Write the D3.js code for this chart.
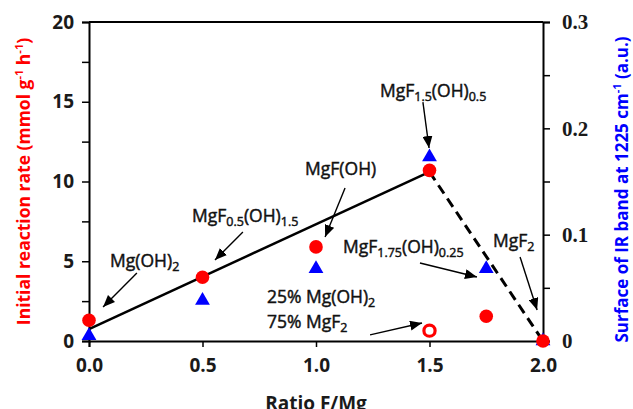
<!DOCTYPE html>
<html><head><meta charset="utf-8">
<script src="https://cdn.jsdelivr.net/npm/d3@7"></script>
<style>body{margin:0;background:#fff}svg{display:block}</style>
</head><body>
<svg id="c" width="633" height="409"></svg>
<script>
// ---- data ----
const ratios = [0, 0.5, 1.0, 1.5, 1.75, 2.0];
const rateValues = [1.3, 4.0, 5.9, 10.7, 1.55, 0];       // left axis, red circles
const irValues = [0.005, 0.038, 0.068, 0.173, 0.068, 0]; // right axis, blue triangles
const mixRatio = [1.5];
const mixRate = [0.65];                                   // open red circle
const trendSolidX = [0, 1.5], trendSolidY = [0.75, 10.6];
const trendDashX = [1.5, 2.0], trendDashY = [10.6, 0];
const xTicks = [0, 0.5, 1.0, 1.5, 2.0];
const yLeftTicks = [0, 5, 10, 15, 20];
const yLeftMinor = [2.5, 7.5, 12.5, 17.5];
const yRightTicks = [0, 0.1, 0.2, 0.3];
const yRightMinor = [0.05, 0.15, 0.25];
const yRightLabels = ["0", "0.1", "0.2", "0.3"];

// annotations: text parts (sub = subscript), anchor & arrow in data units (ratio, rate)
const annotations = [
  {parts:[["Mg(OH)"],["2",1]], tx:0.093, ty:4.64, a:[0.211,4.26,0.062,2.13]},
  {parts:[["MgF"],["0.5",1],["(OH)"],["1.5",1]], tx:0.454, ty:7.46, a:[0.678,6.83,0.555,5.08]},
  {parts:[["MgF(OH)"]], tx:0.952, ty:10.41, a:[1.128,9.59,1.04,6.52]},
  {parts:[["MgF"],["1.5",1],["(OH)"],["0.5",1]], tx:1.282, ty:15.30, a:[1.471,14.98,1.498,12.10]},
  {parts:[["MgF"],["1.75",1],["(OH)"],["0.25",1]], tx:1.119, ty:5.52, a:[1.458,4.89,1.709,4.01]},
  {parts:[["MgF"],["2",1]], tx:1.780, ty:5.89, a:[1.899,5.27,1.974,1.94]},
  {parts:[["25% Mg(OH)"],["2",1]], tx:0.784, ty:2.38, a:null},
  {parts:[["75% MgF"],["2",1]], tx:0.784, ty:0.82, a:[1.238,0.38,1.467,1.13]}
];

// ---- layout ----
const W = 633, H = 409;
const m = {l:89, r:90, t:22, b:68};
const svg = d3.select("#c");
const x = d3.scaleLinear().domain([0, 2]).range([m.l, W - m.r]);
const yL = d3.scaleLinear().domain([0, 20]).range([H - m.b, m.t]);
const yR = d3.scaleLinear().domain([0, 0.3]).range([H - m.b, m.t]);
const sans = "'Open Sans', sans-serif";

svg.append("defs").append("marker")
  .attr("id","ah").attr("viewBox","0 0 10 10").attr("refX",10).attr("refY",5)
  .attr("markerWidth",12).attr("markerHeight",10).attr("markerUnits","userSpaceOnUse")
  .attr("orient","auto").attr("preserveAspectRatio","none")
  .append("path").attr("d","M0,0L10,5L0,10z").attr("fill","#000");

// top frame
svg.append("line").attr("x1",x(0)).attr("x2",x(2)).attr("y1",yL(20)).attr("y2",yL(20))
  .attr("stroke","#000").attr("stroke-width",2);

// axes
const gL = svg.append("g").attr("transform",`translate(${m.l},0)`)
  .call(d3.axisLeft(yL).tickValues(yLeftTicks.concat(yLeftMinor)).tickSize(7).tickPadding(8)
    .tickFormat(d => yLeftTicks.includes(d) ? d3.format("d")(d) : ""));
const gR = svg.append("g").attr("transform",`translate(${W - m.r},0)`)
  .call(d3.axisRight(yR).tickValues(yRightTicks.concat(yRightMinor)).tickSize(7).tickPadding(12)
    .tickFormat(d => { const i = yRightTicks.indexOf(d); return i >= 0 ? yRightLabels[i] : ""; }));
const gB = svg.append("g").attr("transform",`translate(0,${H - m.b})`)
  .call(d3.axisBottom(x).tickValues(xTicks).tickSize(6).tickPadding(12).tickFormat(d3.format(".1f")));
[gL,gR,gB].forEach(g => {
  g.select(".domain").attr("stroke","#000").attr("stroke-width",2);
  g.selectAll(".tick line").attr("stroke","#000").attr("stroke-width",1.5);
  g.selectAll("text").attr("fill","#1a1a1a").attr("font-weight","bold");
});
gL.selectAll("text").attr("font-family",sans).attr("font-size",19);
gB.selectAll("text").attr("font-family",sans).attr("font-size",19);
gR.selectAll("text").attr("font-family","'Liberation Serif', serif").attr("font-size",21);

// axis titles
const tL = svg.append("text").attr("transform",`translate(30,${(m.t + H - m.b)/2}) rotate(-90)`)
  .attr("text-anchor","middle").attr("fill","#ff0000").attr("font-family",sans)
  .attr("font-weight","bold").attr("font-size",17.5);
tL.append("tspan").text("Initial reaction rate  (mmol g");
tL.append("tspan").attr("font-size",11).attr("baseline-shift","super").text("-1");
tL.append("tspan").text(" h");
tL.append("tspan").attr("font-size",11).attr("baseline-shift","super").text("-1");
tL.append("tspan").text(")");

const tR = svg.append("text").attr("transform",`translate(628,${(m.t + H - m.b)/2 + 8}) rotate(-90)`)
  .attr("text-anchor","middle").attr("fill","#0000ff").attr("font-family",sans)
  .attr("font-weight","bold").attr("font-size",17);
tR.append("tspan").text("Surface of IR band at 1225 cm");
tR.append("tspan").attr("font-size",11).attr("baseline-shift","super").text("-1");
tR.append("tspan").text(" (a.u.)");

svg.append("text").attr("x",(m.l + W - m.r)/2).attr("y",410).attr("text-anchor","middle")
  .attr("font-family",sans).attr("font-weight","bold").attr("font-size",19).attr("fill","#1a1a1a")
  .text("Ratio F/Mg");

// trend lines
const ln = d3.line().x(d => x(d[0])).y(d => yL(d[1]));
svg.append("path").datum(d3.zip(trendSolidX, trendSolidY)).attr("d",ln)
  .attr("fill","none").attr("stroke","#000").attr("stroke-width",2.5);
svg.append("path").datum(d3.zip(trendDashX, trendDashY)).attr("d",ln)
  .attr("fill","none").attr("stroke","#000").attr("stroke-width",3).attr("stroke-dasharray","10,6");

// markers
svg.selectAll(".tri").data(d3.zip(ratios, irValues)).join("path")
  .attr("transform", d => `translate(${x(d[0])},${yR(d[1])})`)
  .attr("d", d3.symbol(d3.symbolTriangle, 95)).attr("fill","#0000ff");
svg.selectAll(".dot").data(d3.zip(ratios, rateValues)).join("circle")
  .attr("cx", d => x(d[0])).attr("cy", d => yL(d[1])).attr("r",6.8).attr("fill","#ff0000");
svg.selectAll(".open").data(d3.zip(mixRatio, mixRate)).join("circle")
  .attr("cx", d => x(d[0])).attr("cy", d => yL(d[1])).attr("r",5.6)
  .attr("fill","#fff").attr("stroke","#ff0000").attr("stroke-width",3.2);

// annotations
annotations.forEach(an => {
  const t = svg.append("text").attr("x",x(an.tx)).attr("y",yL(an.ty))
    .attr("font-family",sans).attr("font-size",17.5).attr("fill","#111")
    .attr("stroke","#111").attr("stroke-width",0.45);
  an.parts.forEach((p, i) => {
    const s = t.append("tspan").text(p[0]);
    if (p[1]) s.attr("font-size",12.5).attr("dy",4);
    else if (i > 0 && an.parts[i-1][1]) s.attr("dy",-4);
  });
  if (an.a) {
    svg.append("line").attr("x1",x(an.a[0])).attr("y1",yL(an.a[1]))
      .attr("x2",x(an.a[2])).attr("y2",yL(an.a[3]))
      .attr("stroke","#000").attr("stroke-width",1.4).attr("marker-end","url(#ah)");
  }
});
</script>
</body></html>
